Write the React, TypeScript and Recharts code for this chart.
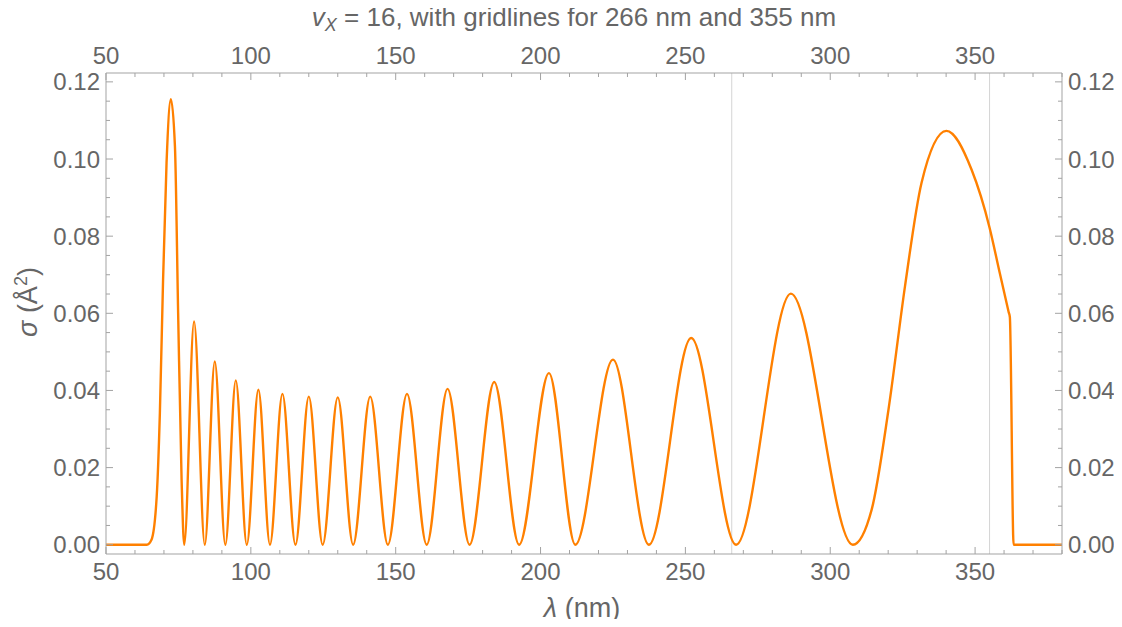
import React from 'react';
import { LineChart, Line, XAxis, YAxis, ReferenceLine } from 'recharts';

// wavelength (nm)
const lambdaNm = [
  50, 64.1, 65.7, 67.5, 68.6, 69.7, 70.9, 72.4, 73.8, 74.9, 76.1, 77.0,
  80.4, 84.1, 87.55, 91.2, 94.8, 98.6, 102.6, 106.6, 110.9, 115.4,
  120.0, 124.8, 130.0, 135.3, 141.2, 147.3, 153.9, 160.7, 167.9, 175.5,
  184.0, 192.6, 202.9, 212.0, 225.0, 237.4, 252.0, 267.5, 286.4, 307.8,
  314.3, 320.1, 325.8, 331.5, 340.1, 348.8, 355.0, 358.5, 361.6, 362.0, 363.3, 380,
];
// cross section sigma (Å^2)
const sigma = [
  0, 0, 0.0013, 0.0125, 0.0342, 0.0687, 0.099, 0.1155, 0.1032, 0.0601, 0.0168, 0,
  0.0579, 0, 0.0475, 0, 0.0426, 0, 0.0402, 0, 0.0391, 0,
  0.0384, 0, 0.0382, 0, 0.0384, 0, 0.0391, 0, 0.0404, 0,
  0.0422, 0, 0.0445, 0, 0.048, 0, 0.0536, 0, 0.0651, 0,
  0.0091, 0.035, 0.067, 0.0938, 0.1073, 0.0972, 0.0822, 0.0705, 0.0603, 0.0590, 0, 0,
];

const xTicks = [50, 60, 70, 80, 90, 100, 110, 120, 130, 140, 150, 160, 170, 180, 190, 200, 210, 220, 230, 240, 250, 260, 270, 280, 290, 300, 310, 320, 330, 340, 350, 360, 370, 380];
const xMajor = [50, 100, 150, 200, 250, 300, 350];
const yTicks = [0, 0.005, 0.01, 0.015, 0.02, 0.025, 0.03, 0.035, 0.04, 0.045, 0.05, 0.055, 0.06, 0.065, 0.07, 0.075, 0.08, 0.085, 0.09, 0.095, 0.1, 0.105, 0.11, 0.115, 0.12];
const yMajor = [0, 0.02, 0.04, 0.06, 0.08, 0.1, 0.12];
const gridLines = [266, 355];

const data = lambdaNm.map((l, i) => ({ l, s: sigma[i] }));

const FRAME = '#a3a3a3';
const TXT = '#666666';
const FONT = '"Liberation Sans", Arial, sans-serif';
const FS = 24;
const LFS = 26;
const MAJ = 7;
const MIN = 4;

const isMajX = (v: number) => xMajor.indexOf(v) >= 0;
const isMajY = (v: number) => yMajor.some((m) => Math.abs(m - v) < 1e-9);

const BottomTick = (p: any) => {
  const { x, y, payload } = p;
  const m = isMajX(payload.value);
  return (
    <g>
      <line x1={x} x2={x} y1={y} y2={y - (m ? MAJ : MIN)} stroke={FRAME} strokeWidth={1} />
      {m && (
        <text x={x} y={y + 26} textAnchor="middle" fill={TXT} fontSize={FS} fontFamily={FONT}>
          {payload.value}
        </text>
      )}
    </g>
  );
};

const TopTick = (p: any) => {
  const { x, y, payload } = p;
  const m = isMajX(payload.value);
  return (
    <g>
      <line x1={x} x2={x} y1={y} y2={y + (m ? MAJ : MIN)} stroke={FRAME} strokeWidth={1} />
      {m && (
        <text x={x} y={y - 9} textAnchor="middle" fill={TXT} fontSize={FS} fontFamily={FONT}>
          {payload.value}
        </text>
      )}
    </g>
  );
};

const LeftTick = (p: any) => {
  const { x, y, payload } = p;
  const m = isMajY(payload.value);
  return (
    <g>
      <line x1={x} x2={x + (m ? MAJ : MIN)} y1={y} y2={y} stroke={FRAME} strokeWidth={1} />
      {m && (
        <text x={x - 6} y={y + 8.5} textAnchor="end" fill={TXT} fontSize={FS} fontFamily={FONT}>
          {payload.value.toFixed(2)}
        </text>
      )}
    </g>
  );
};

const RightTick = (p: any) => {
  const { x, y, payload } = p;
  const m = isMajY(payload.value);
  return (
    <g>
      <line x1={x} x2={x - (m ? MAJ : MIN)} y1={y} y2={y} stroke={FRAME} strokeWidth={1} />
      {m && (
        <text x={x + 6} y={y + 8.5} textAnchor="start" fill={TXT} fontSize={FS} fontFamily={FONT}>
          {payload.value.toFixed(2)}
        </text>
      )}
    </g>
  );
};

export default function App() {
  const W = 1106;
  const H = 611;
  return (
    <div style={{ position: 'relative', width: W, height: H }}>
      <LineChart
        width={W}
        height={H}
        data={data}
        margin={{ top: 25, right: 0, bottom: 25, left: 38 }}
      >
        <XAxis
          xAxisId="bottom"
          orientation="bottom"
          dataKey="l"
          type="number"
          domain={[50, 380]}
          allowDataOverflow
          ticks={xTicks}
          interval={0}
          height={40}
          tickSize={0}
          tickMargin={0}
          tickLine={false}
          axisLine={{ stroke: FRAME }}
          tick={<BottomTick />}
        />
        <XAxis
          xAxisId="top"
          orientation="top"
          dataKey="l"
          type="number"
          domain={[50, 380]}
          allowDataOverflow
          ticks={xTicks}
          interval={0}
          height={40}
          tickSize={0}
          tickMargin={0}
          tickLine={false}
          axisLine={{ stroke: FRAME }}
          tick={<TopTick />}
        />
        <YAxis
          yAxisId="left"
          orientation="left"
          type="number"
          domain={[-0.0024, 0.1223]}
          allowDataOverflow
          ticks={yTicks}
          interval={0}
          width={60}
          tickSize={0}
          tickMargin={0}
          tickLine={false}
          axisLine={{ stroke: FRAME }}
          tick={<LeftTick />}
        />
        <YAxis
          yAxisId="right"
          orientation="right"
          type="number"
          domain={[-0.0024, 0.1223]}
          allowDataOverflow
          ticks={yTicks}
          interval={0}
          width={52}
          tickSize={0}
          tickMargin={0}
          tickLine={false}
          axisLine={{ stroke: FRAME }}
          tick={<RightTick />}
        />
        {gridLines.map((g) => (
          <ReferenceLine key={g} x={g} xAxisId="bottom" yAxisId="left" stroke="#d4d4d4" strokeWidth={1} />
        ))}
        <Line
          xAxisId="top"
          yAxisId="right"
          type="monotone"
          dataKey="s"
          stroke="none"
          strokeWidth={0}
          dot={false}
          activeDot={false}
          isAnimationActive={false}
        />
        <Line
          xAxisId="bottom"
          yAxisId="left"
          type="monotone"
          dataKey="s"
          stroke="#ff8000"
          strokeWidth={2.4}
          dot={false}
          activeDot={false}
          isAnimationActive={false}
        />
      </LineChart>
      <svg
        width={W}
        height={H}
        style={{ position: 'absolute', left: 0, top: 0, overflow: 'visible', pointerEvents: 'none' }}
      >
        <text x={566} y={18} textAnchor="middle" fill={TXT} fontSize={LFS} fontFamily={FONT}>
          <tspan fontStyle="italic">v</tspan>
          <tspan fontStyle="italic" fontSize={18} dy={5}>X</tspan>
          <tspan dy={-5}> = 16, with gridlines for 266 nm and 355 nm</tspan>
        </text>
        <text x={574} y={609} textAnchor="middle" fill={TXT} fontSize={LFS + 1} fontFamily={FONT}>
          <tspan fontStyle="italic">λ</tspan>
          <tspan> (nm)</tspan>
        </text>
        <text
          x={29}
          y={294}
          textAnchor="middle"
          fill={TXT}
          fontSize={LFS + 1}
          fontFamily={FONT}
          transform="rotate(-90, 29, 294)"
        >
          <tspan fontStyle="italic">σ</tspan>
          <tspan> (Å</tspan>
          <tspan fontSize={18} dy={-10}>2</tspan>
          <tspan dy={10}>)</tspan>
        </text>
      </svg>
    </div>
  );
}
